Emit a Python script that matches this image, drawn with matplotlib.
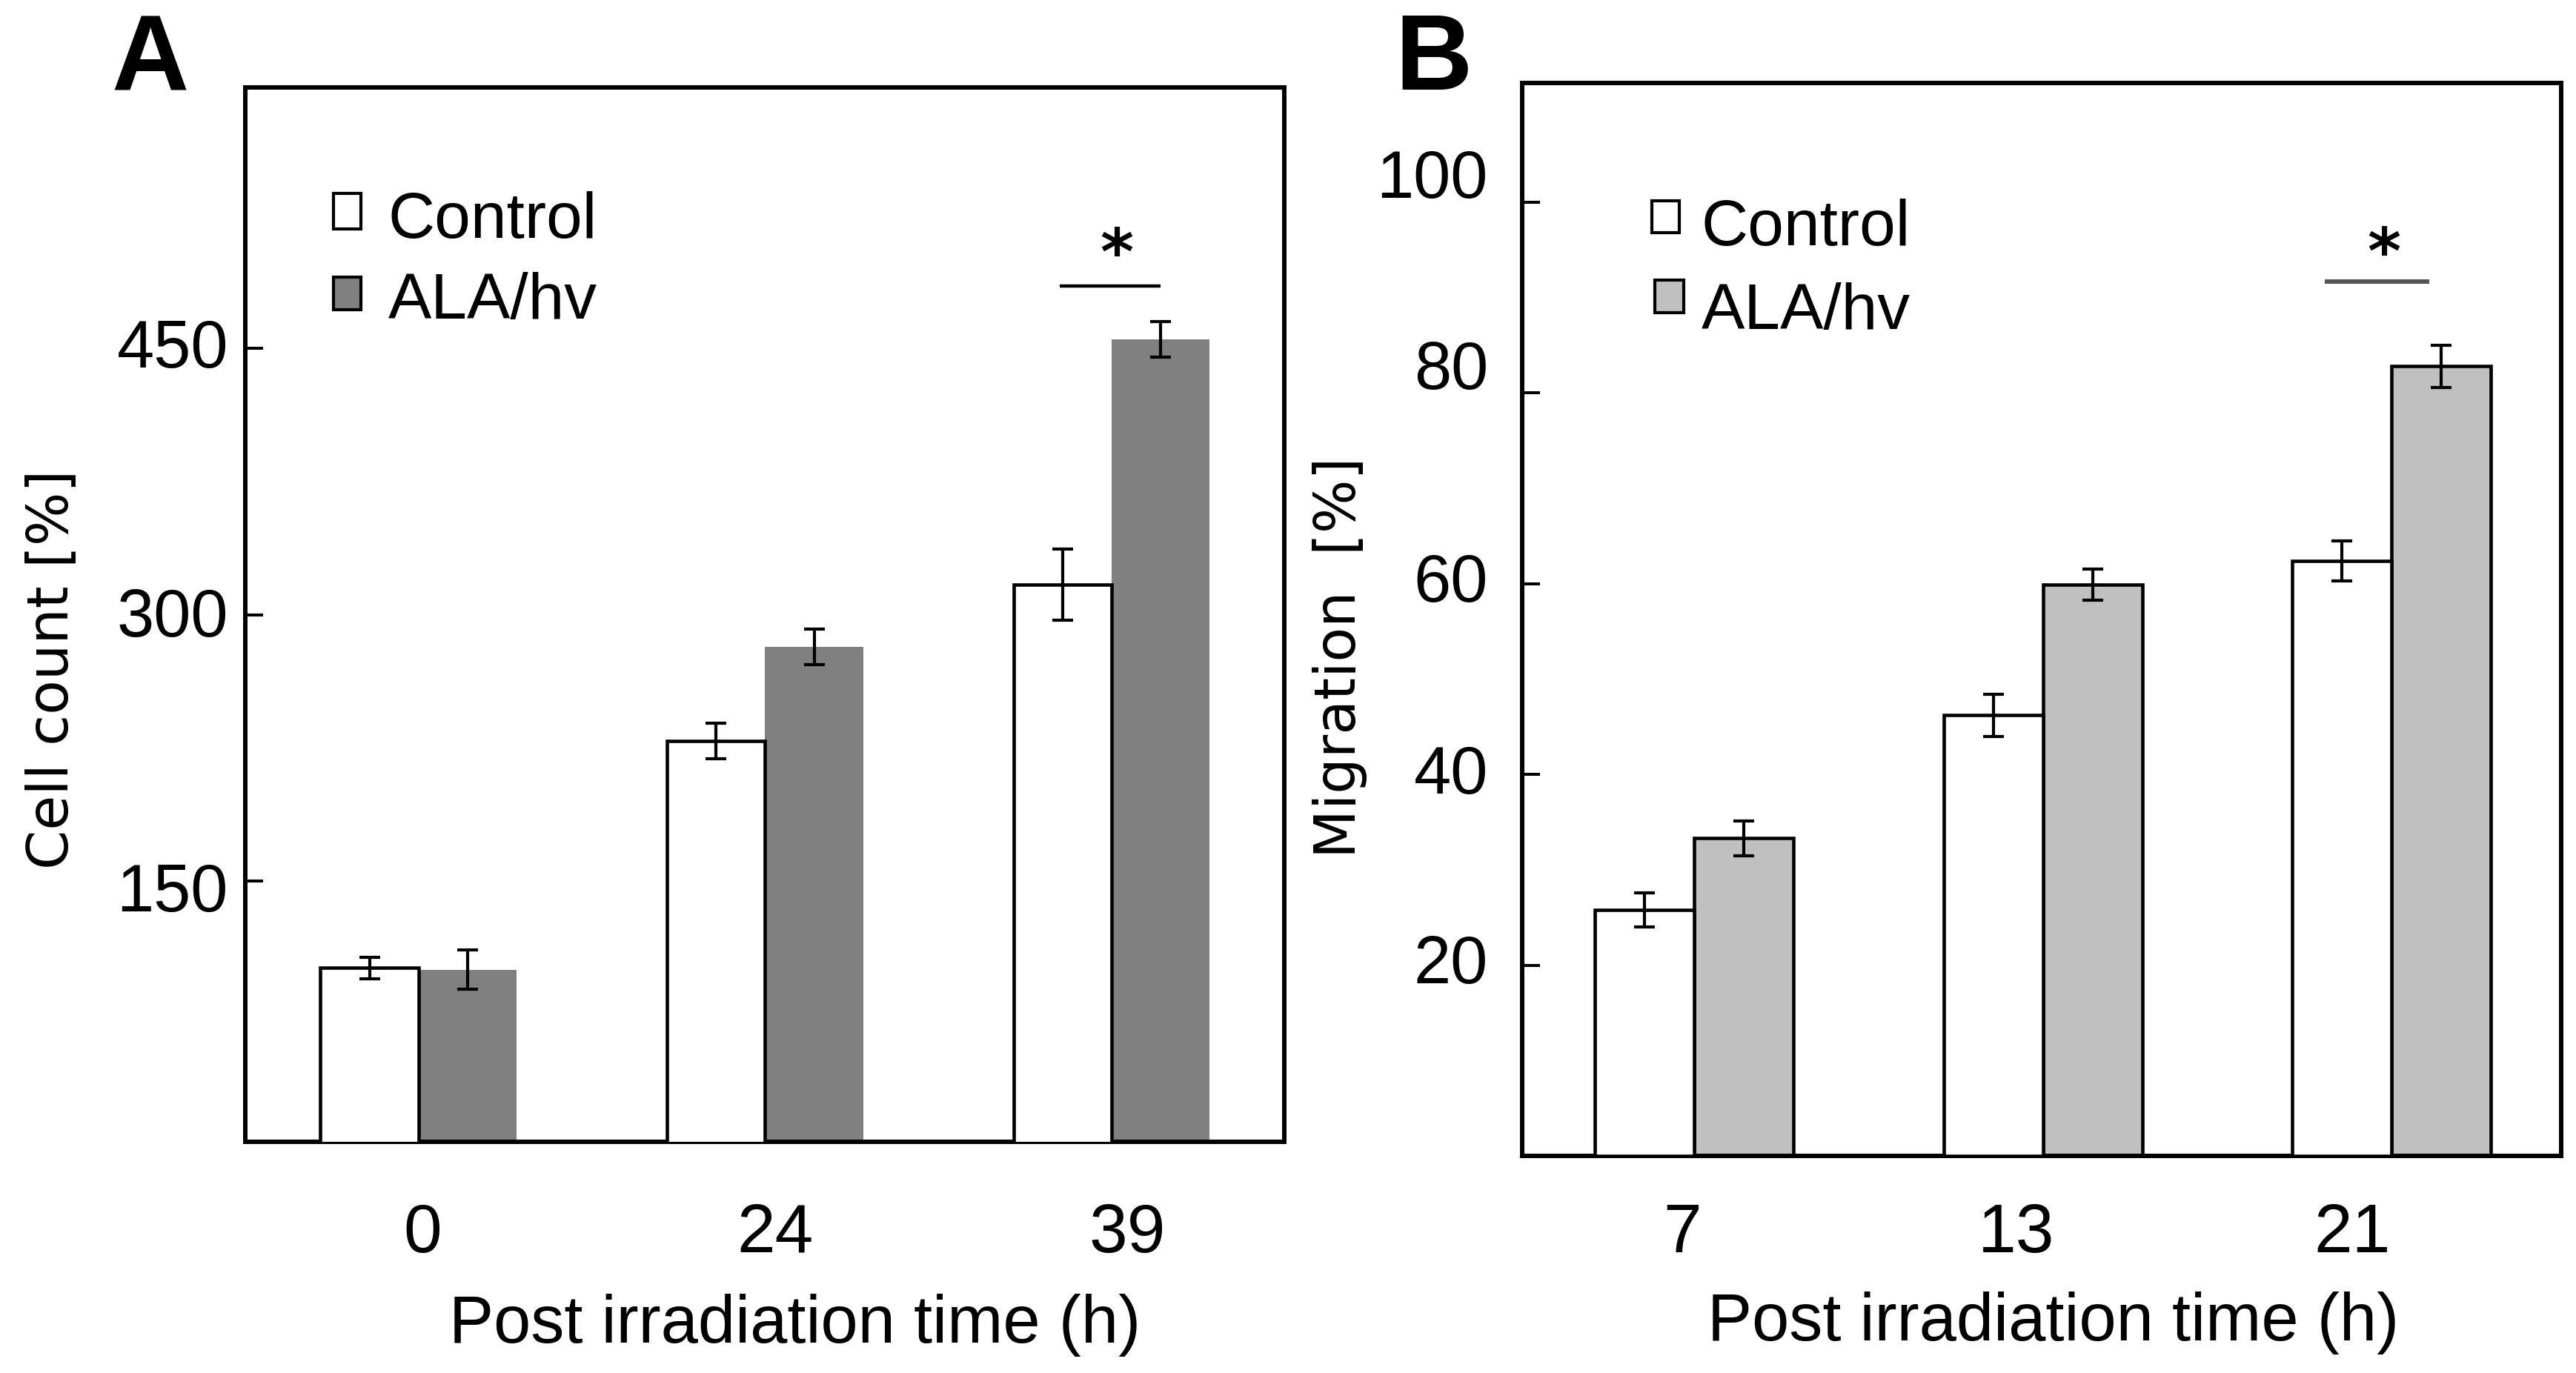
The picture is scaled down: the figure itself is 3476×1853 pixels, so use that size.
import matplotlib
matplotlib.use("Agg")
import matplotlib.pyplot as plt
import numpy as np
from matplotlib.patches import Rectangle
from matplotlib.transforms import ScaledTranslation, blended_transform_factory

# ---------------- data ----------------
times_A = ["0", "24", "39"]
control_A = [101, 229, 317]
control_A_err = [6, 10, 20]
ala_A = [100, 282, 455]
ala_A_err = [11, 10, 10]
yticks_A = [150, 300, 450]
sig_A_line = 485
sig_A_star = 512

times_B = ["7", "13", "21"]
control_B = [25.8, 46.2, 62.4]
control_B_err = [1.8, 2.2, 2.1]
ala_B = [33.3, 59.9, 82.8]
ala_B_err = [1.8, 1.6, 2.2]
yticks_B = [20, 40, 60, 80, 100]
sig_B_line = 91.7
sig_B_star = 96.3

series_names = ["Control", "ALA/hv"]

# ---------------- layout ----------------
W, H = 3476, 1853
DPI = 100
plt.rcParams["font.family"] = ["Liberation Sans", "DejaVu Sans"]

fig = plt.figure(figsize=(W / DPI, H / DPI), dpi=DPI)
fig.patch.set_facecolor("white")


def add_axes(l, t, r, b):
    return fig.add_axes([l / W, 1 - b / H, (r - l) / W, (b - t) / H])


def fx(x):
    return x / W


def fy(y):
    return 1 - y / H


def off(dx_px, dy_px):
    return ScaledTranslation(dx_px / DPI, dy_px / DPI, fig.dpi_scale_trans)


def panel(ax, cats, ctrl, ctrl_err, ala, ala_err, ala_face, ala_edge, width,
          xlim, ylim, yticks, ytick_pad, ytick_dy, xtick_shift, xtick_base,
          sig_x, sig_y, sig_color, sig_lw, star_x, star_y):
    x = np.arange(len(cats))
    ax.bar(x - width / 2, ctrl, width, color="white", edgecolor="black",
           linewidth=3.3, zorder=3)
    ax.bar(x + width / 2, ala, width, color=ala_face, edgecolor=ala_edge,
           linewidth=3.3 if ala_edge != "none" else 0, zorder=2)
    ekw = dict(fmt="none", ecolor="black", elinewidth=3.0, capsize=10,
               capthick=3.0, zorder=5)
    ax.errorbar(x - width / 2, ctrl, yerr=ctrl_err, **ekw)
    ax.errorbar(x + width / 2, ala, yerr=ala_err, **ekw)

    ax.set_xlim(*xlim)
    ax.set_ylim(*ylim)
    for s in ax.spines.values():
        s.set_linewidth(4.3)
        s.set_color("black")
    ax.set_xticks([])
    ax.set_yticks(yticks)
    ax.tick_params(axis="y", direction="in", length=17, width=2.9,
                   labelleft=False)

    # y tick labels
    ty = blended_transform_factory(ax.transAxes, ax.transData)
    for v, dy in zip(yticks, ytick_dy):
        ax.text(0, v, str(v), transform=ty + off(-ytick_pad, dy - 32),
                ha="right", va="baseline", fontsize=65)
    # x tick labels
    tx = blended_transform_factory(ax.transData, ax.transAxes)
    for i, (c, sh) in enumerate(zip(cats, xtick_shift)):
        ax.text(i + sh, 0, c, transform=tx + off(0, -xtick_base),
                ha="center", va="baseline", fontsize=67)

    # significance
    ax.plot(sig_x, [sig_y, sig_y], color=sig_color, lw=sig_lw,
            solid_capstyle="butt", zorder=4)
    ax.text(star_x, star_y, "*", transform=ax.transData + off(0, -48),
            ha="center", va="baseline", fontsize=62, family="DejaVu Sans",
            fontweight="bold")


# Panel A
axA = add_axes(331, 118, 1733, 1541)
panel(axA, times_A, control_A, control_A_err, ala_A, ala_A_err,
      "#808080", "none", 0.283, (-0.5, 2.498), (3.1, 597), yticks_A,
      23, [-9, 3, 6], [0.011, 0.03, 0.045], 149,
      [1.85, 2.14], sig_A_line, "black", 3.2, 2.015, sig_A_star)

# Panel B
axB = add_axes(2054, 112, 3456, 1560)
panel(axB, times_B, control_B, control_B_err, ala_B, ala_B_err,
      "#C0C0C0", "black", 0.285, (-0.494, 2.487), (0, 112.5), yticks_B,
      46, [8, 6, 8, 37, 38], [-0.034, -0.077, -0.113], 130,
      [1.809, 2.109], sig_B_line, "#555555", 4.3, 1.979, sig_B_star)

# legends (manual swatches)
def legend_item(x0, y0, x1, y1, face, label, tx, tbase):
    fig.add_artist(Rectangle((fx(x0), fy(y1)), fx(x1) - fx(x0), fy(y0) - fy(y1),
                             transform=fig.transFigure, facecolor=face,
                             edgecolor="black", linewidth=3.0))
    fig.text(fx(tx), fy(tbase), label, ha="left", va="baseline", fontsize=63)

legend_item(450, 261, 487, 309, "white", series_names[0], 524, 321)
legend_item(450, 374, 487, 418, "#808080", series_names[1], 524, 430)
legend_item(2229, 271, 2266, 314, "white", series_names[0], 2296, 331)
legend_item(2233, 378, 2272, 422, "#C0C0C0", series_names[1], 2296, 444)

# axis titles
fig.text(fx(1073), fy(1812), "Post irradiation time (h)", ha="center",
         va="baseline", fontsize=65)
fig.text(fx(2771), fy(1809), "Post irradiation time (h)", ha="center",
         va="baseline", fontsize=65)
fig.text(fx(71), fy(903), "Cell count [%]", rotation=90, ha="center",
         va="center", fontsize=55, family="DejaVu Sans")
fig.text(fx(1808), fy(887), "Migration  [%]", rotation=90, ha="center",
         va="center", fontsize=55, family="DejaVu Sans")

# panel letters
fig.text(fx(150), fy(121), "A", ha="left", va="baseline", fontsize=104,
         fontweight="bold")
fig.text(fx(1882), fy(121), "B", ha="left", va="baseline", fontsize=104,
         fontweight="bold")

fig.savefig("out.png", dpi=DPI, facecolor="white")
